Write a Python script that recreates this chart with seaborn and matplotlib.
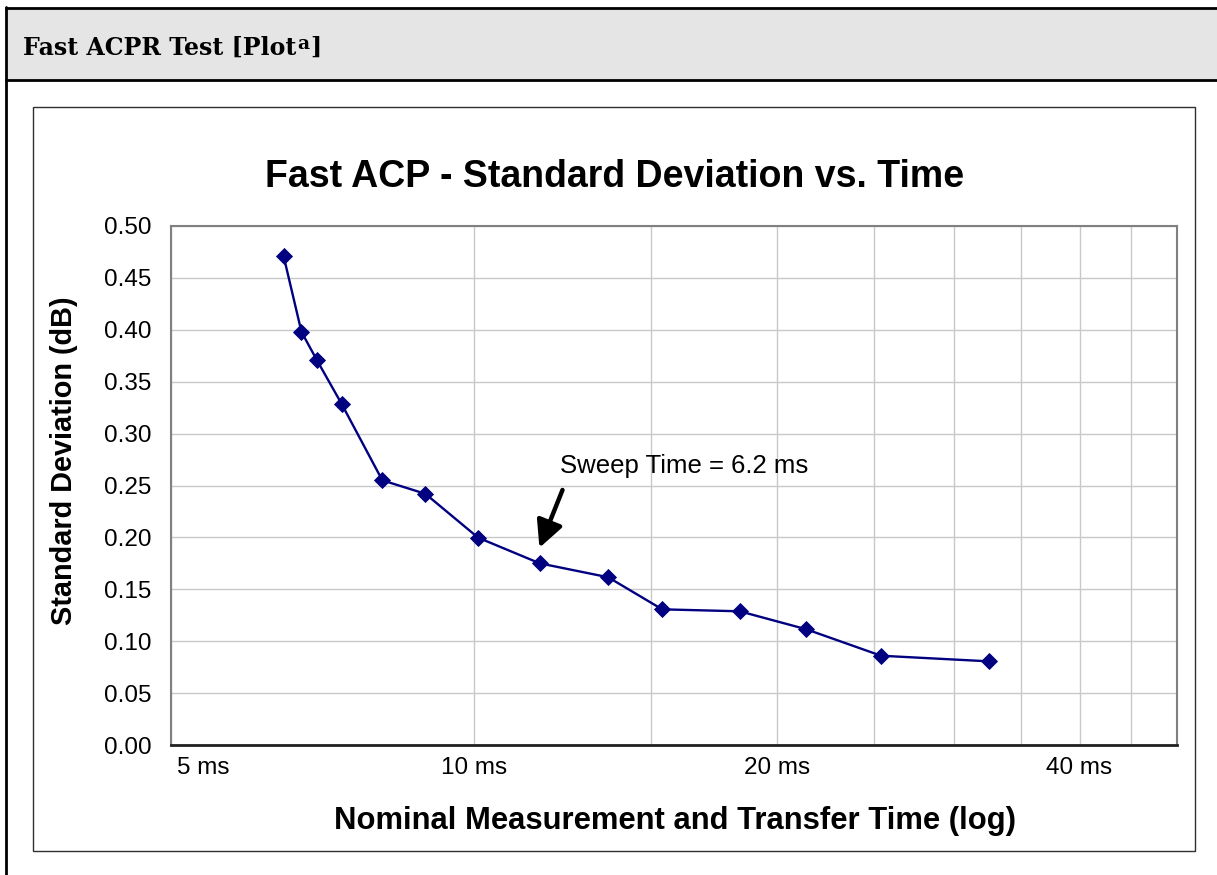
#!/usr/bin/env python3

# libraries
import matplotlib
matplotlib.use('Agg')

import matplotlib.pyplot as plt
import matplotlib.transforms as mtransforms
from matplotlib.patches import Rectangle
from matplotlib.lines import Line2D
from matplotlib.ticker import NullFormatter
import pandas as pd
import seaborn as sns

# ------------------------------------------------------------
#     Data
# ------------------------------------------------------------

time_ms = [6.47, 6.74, 6.98, 7.39, 8.11, 8.95, 10.1, 11.63, 13.6, 15.39, 18.38, 21.4, 25.4, 32.5]
std_db = [0.471, 0.398, 0.371, 0.3285, 0.255, 0.242, 0.1997, 0.175, 0.1616, 0.1307, 0.1288, 0.1115, 0.086, 0.0806]

x_ticks = [5, 10, 20, 40]
x_tick_labels = ["5 ms", "10 ms", "20 ms", "40 ms"]
x_grid_extra = [15, 25, 30, 35, 45]
y_ticks = [0.0, 0.05, 0.10, 0.15, 0.20, 0.25, 0.30, 0.35, 0.40, 0.45, 0.50]
y_tick_labels = ["0.00", "0.05", "0.10", "0.15", "0.20", "0.25", "0.30", "0.35", "0.40", "0.45", "0.50"]

title = "Fast ACP - Standard Deviation vs. Time"
xlabel = "Nominal Measurement and Transfer Time (log)"
ylabel = "Standard Deviation (dB)"
note = "Sweep Time = 6.2 ms"

# ------------------------------------------------------------
#     Settings
# ------------------------------------------------------------

W, H = 1217, 875
navy = '#000080'

sns.set_style("white")
plt.rcParams['font.family'] = ['Liberation Sans', 'DejaVu Sans']
plt.rcParams['text.color'] = 'black'
plt.rcParams['axes.labelcolor'] = 'black'
plt.rcParams['xtick.color'] = 'black'
plt.rcParams['ytick.color'] = 'black'

fig = plt.figure(figsize=(W / 100, H / 100), dpi=100)
fig.patch.set_facecolor('white')

def fx(x):
    return x / W

def fy(y):
    return 1 - y / H

# page frame: grey header band, black rules
fig.add_artist(Rectangle((fx(6), fy(80)), fx(W - 6), (80 - 8) / H, transform=fig.transFigure,
                         facecolor='#e5e5e5', edgecolor='none', zorder=0))
fig.add_artist(Line2D([fx(6), 1], [fy(8), fy(8)], transform=fig.transFigure, color='black', lw=2))
fig.add_artist(Line2D([fx(6), 1], [fy(80), fy(80)], transform=fig.transFigure, color='black', lw=2))
fig.add_artist(Line2D([fx(6), fx(6)], [fy(7), 0], transform=fig.transFigure, color='black', lw=2))

# chart box
fig.add_artist(Rectangle((fx(33), fy(851)), (1195 - 33) / W, (851 - 107) / H, transform=fig.transFigure,
                         facecolor='none', edgecolor='#303030', lw=1))

# header text with superscript
serif = ['DejaVu Serif']
hdr = fig.text(fx(23), fy(55), "Fast ACPR Test [Plot", fontsize=17, fontweight='bold',
               family=serif, va='baseline', ha='left')
renderer = fig.canvas.get_renderer()
bb = hdr.get_window_extent(renderer)
sup = fig.text(bb.x1 / W + fx(1), fy(49), "a", fontsize=13.5, fontweight='bold',
               family=serif, va='baseline', ha='left')
bb2 = sup.get_window_extent(renderer)
fig.text(bb2.x1 / W + fx(1), fy(55), "]", fontsize=17, fontweight='bold',
         family=serif, va='baseline', ha='left')

# ------------------------------------------------------------
#     Plotting
# ------------------------------------------------------------

ax = fig.add_axes([fx(171), fy(745), (1177 - 171) / W, (745 - 226) / H])
df = pd.DataFrame({'time': time_ms, 'std': std_db})
sns.lineplot(data=df, x='time', y='std', ax=ax, color=navy, lw=1.7,
             marker='D', markersize=8.5, markeredgecolor=navy, markeredgewidth=0.6)

ax.set_xscale('log')
ax.set_xlim(5, 50)
ax.set_ylim(0, 0.5)

ax.set_xticks(x_ticks)
ax.set_xticklabels(x_tick_labels)
ax.set_xticks(x_grid_extra, minor=True)
ax.xaxis.set_minor_formatter(NullFormatter())
ax.set_yticks(y_ticks)
ax.set_yticklabels(y_tick_labels)

ax.grid(True, which='both', color='#c8c8c8', lw=1)
ax.set_axisbelow(True)
ax.tick_params(axis='both', which='both', length=0, labelsize=17.5, colors='black')
ax.tick_params(axis='y', pad=14)
ax.tick_params(axis='x', pad=9)

# first label sits just inside the left edge
lab0 = ax.get_xticklabels()[0]
lab0.set_horizontalalignment('left')
lab0.set_transform(lab0.get_transform() + mtransforms.ScaledTranslation(0.06, 0, fig.dpi_scale_trans))

for side in ['left', 'top', 'right']:
    ax.spines[side].set_color('#808080')
    ax.spines[side].set_linewidth(1.5)
ax.spines['bottom'].set_color('#202020')
ax.spines['bottom'].set_linewidth(2)

ax.set_xlabel(xlabel, fontsize=22.3, fontweight='bold', va='baseline')
ax.xaxis.set_label_coords(0.5005, (745 - 829) / 519)
ax.set_ylabel(ylabel, fontsize=20.8, fontweight='bold')
ax.yaxis.set_label_coords((78 - 171) / 1006, 0.547)

fig.text(fx(615), fy(187), title, fontsize=27, fontweight='bold', ha='center', va='baseline')

# sweep time annotation
ax.annotate("", xy=(11.62, 0.19), xytext=(12.25, 0.2457),
            arrowprops=dict(arrowstyle='-|>,head_length=0.9,head_width=0.45', color='black',
                            lw=3.2, mutation_scale=18, shrinkA=0, shrinkB=0))
ax.text(12.17, 0.262, note, fontsize=18.5, ha='left', va='baseline')

plt.savefig("out.png", dpi=100)
